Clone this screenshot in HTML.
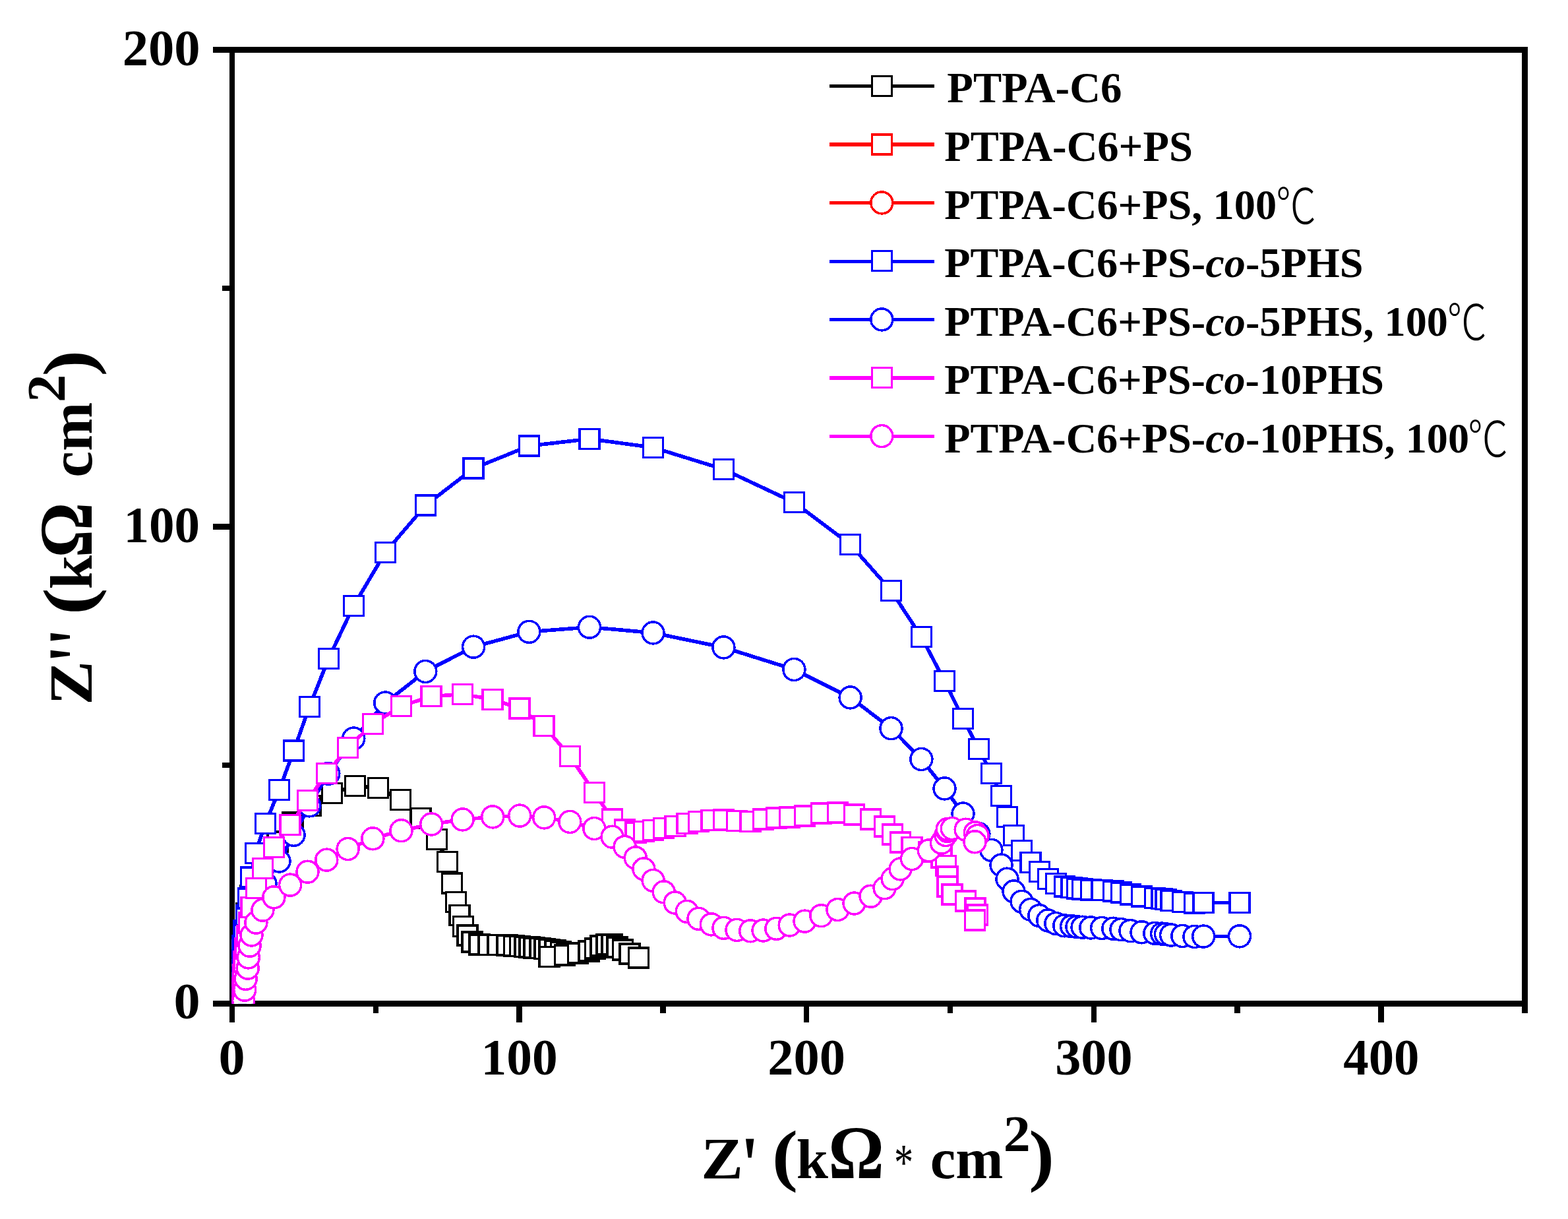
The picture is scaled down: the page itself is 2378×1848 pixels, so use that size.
<!DOCTYPE html>
<html lang="en"><head><meta charset="utf-8"><title>Nyquist plot</title>
<style>html,body{margin:0;padding:0;background:#fff}svg{display:block}text{fill:#000}</style></head><body>
<svg width="2378" height="1848" viewBox="0 0 2378 1848">
<rect width="2378" height="1848" fill="#fff"/>
<defs><clipPath id="plot"><rect x="351.3" y="75.5" width="1961.2" height="1446.2"/></clipPath></defs>
<g fill="#000" shape-rendering="crispEdges">
<rect x="348" y="71" width="1969" height="9"/>
<rect x="348" y="1517" width="1969" height="9"/>
<rect x="348" y="71" width="8" height="1455"/>
<rect x="2308" y="71" width="9" height="1455"/>
<rect x="323" y="71.0" width="26" height="9"/>
<rect x="323" y="794.0" width="26" height="9"/>
<rect x="323" y="1517.0" width="26" height="9"/>
<rect x="337" y="433.0" width="12" height="8"/>
<rect x="337" y="1156.0" width="12" height="8"/>
<rect x="347.75" y="1525" width="8.5" height="25"/>
<rect x="565.55" y="1525" width="8.5" height="11"/>
<rect x="783.35" y="1525" width="8.5" height="25"/>
<rect x="1001.15" y="1525" width="8.5" height="11"/>
<rect x="1218.95" y="1525" width="8.5" height="25"/>
<rect x="1436.75" y="1525" width="8.5" height="11"/>
<rect x="1654.55" y="1525" width="8.5" height="25"/>
<rect x="1872.35" y="1525" width="8.5" height="11"/>
<rect x="2090.15" y="1525" width="8.5" height="25"/>
<rect x="2308" y="1525" width="9" height="11"/>
</g>
<g clip-path="url(#plot)" shape-rendering="crispEdges">
<g stroke="#000" fill="none"><polyline stroke-width="5.6" stroke-linejoin="round" points="357,1508 359,1486 361.5,1462 364.5,1437 368.5,1411 373.5,1385 380,1358 388.5,1331 401,1303 420.8,1275.8 443.8,1246.8 471.2,1221.3 503.6,1202.6 538.5,1191.6 573.4,1194.4 607.5,1212.5 637.8,1240.5 662.4,1272.3 678.6,1306.5 685.7,1339 691.7,1367.7 696.8,1387.6 702.7,1404.6 708.9,1418 716,1427.9 726.9,1432 740.8,1432.3 754.8,1432.6 768.8,1433.1 779.7,1433.8 788.7,1434.6 795.8,1435.4 803.1,1436.2 809.8,1437 818.8,1437.7 825.8,1438.5 833.1,1439.3 842,1440.8 850.7,1443.2 859.3,1445 833.1,1450.6 856.5,1447.8 876.7,1445 893,1441.9 902.7,1438 911,1434.1 920,1432 928.1,1432 935.9,1435.9 944.7,1439.8 954.9,1445.8 968.6,1451.9"/><g fill="#fff" stroke-width="3.5"><rect x="342" y="1493" width="30.0" height="30.0"/><rect x="344" y="1471" width="30.0" height="30.0"/><rect x="346.5" y="1447" width="30.0" height="30.0"/><rect x="349.5" y="1422" width="30.0" height="30.0"/><rect x="353.5" y="1396" width="30.0" height="30.0"/><rect x="358.5" y="1370" width="30.0" height="30.0"/><rect x="365" y="1343" width="30.0" height="30.0"/><rect x="373.5" y="1316" width="30.0" height="30.0"/><rect x="386" y="1288" width="30.0" height="30.0"/><rect x="405.8" y="1260.8" width="30.0" height="30.0"/><rect x="428.8" y="1231.8" width="30.0" height="30.0"/><rect x="456.2" y="1206.3" width="30.0" height="30.0"/><rect x="488.6" y="1187.6" width="30.0" height="30.0"/><rect x="523.5" y="1176.6" width="30.0" height="30.0"/><rect x="558.4" y="1179.4" width="30.0" height="30.0"/><rect x="592.5" y="1197.5" width="30.0" height="30.0"/><rect x="622.8" y="1225.5" width="30.0" height="30.0"/><rect x="647.4" y="1257.3" width="30.0" height="30.0"/><rect x="663.6" y="1291.5" width="30.0" height="30.0"/><rect x="670.7" y="1324" width="30.0" height="30.0"/><rect x="676.7" y="1352.7" width="30.0" height="30.0"/><rect x="681.8" y="1372.6" width="30.0" height="30.0"/><rect x="687.7" y="1389.6" width="30.0" height="30.0"/><rect x="693.9" y="1403" width="30.0" height="30.0"/><rect x="701" y="1412.9" width="30.0" height="30.0"/><rect x="711.9" y="1417" width="30.0" height="30.0"/><rect x="725.8" y="1417.3" width="30.0" height="30.0"/><rect x="739.8" y="1417.6" width="30.0" height="30.0"/><rect x="753.8" y="1418.1" width="30.0" height="30.0"/><rect x="764.7" y="1418.8" width="30.0" height="30.0"/><rect x="773.7" y="1419.6" width="30.0" height="30.0"/><rect x="780.8" y="1420.4" width="30.0" height="30.0"/><rect x="788.1" y="1421.2" width="30.0" height="30.0"/><rect x="794.8" y="1422" width="30.0" height="30.0"/><rect x="803.8" y="1422.7" width="30.0" height="30.0"/><rect x="810.8" y="1423.5" width="30.0" height="30.0"/><rect x="818.1" y="1424.3" width="30.0" height="30.0"/><rect x="827" y="1425.8" width="30.0" height="30.0"/><rect x="835.7" y="1428.2" width="30.0" height="30.0"/><rect x="844.3" y="1430" width="30.0" height="30.0"/><rect x="818.1" y="1435.6" width="30.0" height="30.0"/><rect x="841.5" y="1432.8" width="30.0" height="30.0"/><rect x="861.7" y="1430" width="30.0" height="30.0"/><rect x="878" y="1426.9" width="30.0" height="30.0"/><rect x="887.7" y="1423" width="30.0" height="30.0"/><rect x="896" y="1419.1" width="30.0" height="30.0"/><rect x="905" y="1417" width="30.0" height="30.0"/><rect x="913.1" y="1417" width="30.0" height="30.0"/><rect x="920.9" y="1420.9" width="30.0" height="30.0"/><rect x="929.7" y="1424.8" width="30.0" height="30.0"/><rect x="939.9" y="1430.8" width="30.0" height="30.0"/><rect x="953.6" y="1436.9" width="30.0" height="30.0"/></g></g>
<g stroke="#00f" fill="none"><polyline stroke-width="5.6" stroke-linejoin="round" points="367.2,1512 367.3,1496 367.5,1477 367.6,1456 367.8,1433.8 370.1,1411 373.4,1387.4 376.4,1362.1 380.4,1330.2 387.3,1293.4 402.5,1248.5 423.5,1197.5 445.5,1138 469.3,1071.3 498.3,998.4 536.3,918.5 584.3,837.5 645.3,766.2 718.1,710.2 802.4,676 894,665.4 990.5,678.4 1097.4,711.4 1204.4,761.7 1289.6,825.4 1351.5,895.5 1397.4,965.7 1432.5,1032.3 1460.5,1089.5 1484.4,1135.5 1503.4,1172.4 1518.5,1206.6 1527.5,1238.3 1537.5,1266.4 1549.6,1289.4 1563.2,1307.6 1576.3,1321.5 1589.3,1332.4 1601.4,1339.3 1614.3,1344.2 1625.2,1345.6 1633.5,1346.8 1641.6,1347.8 1654.3,1348.9 1671.2,1349.7 1688.3,1350.8 1700.5,1353 1714.5,1355.9 1731.5,1359.2 1751.4,1361.5 1762.1,1362.6 1768,1363.6 1776.1,1365.5 1793.4,1367.7 1811.5,1369.2 1825.2,1368.6 1880,1368.3"/><g fill="#fff" stroke-width="3.5"><rect x="352.2" y="1497" width="30.0" height="30.0"/><rect x="352.3" y="1481" width="30.0" height="30.0"/><rect x="352.5" y="1462" width="30.0" height="30.0"/><rect x="352.6" y="1441" width="30.0" height="30.0"/><rect x="352.8" y="1418.8" width="30.0" height="30.0"/><rect x="355.1" y="1396" width="30.0" height="30.0"/><rect x="358.4" y="1372.4" width="30.0" height="30.0"/><rect x="361.4" y="1347.1" width="30.0" height="30.0"/><rect x="365.4" y="1315.2" width="30.0" height="30.0"/><rect x="372.3" y="1278.4" width="30.0" height="30.0"/><rect x="387.5" y="1233.5" width="30.0" height="30.0"/><rect x="408.5" y="1182.5" width="30.0" height="30.0"/><rect x="430.5" y="1123" width="30.0" height="30.0"/><rect x="454.3" y="1056.3" width="30.0" height="30.0"/><rect x="483.3" y="983.4" width="30.0" height="30.0"/><rect x="521.3" y="903.5" width="30.0" height="30.0"/><rect x="569.3" y="822.5" width="30.0" height="30.0"/><rect x="630.3" y="751.2" width="30.0" height="30.0"/><rect x="703.1" y="695.2" width="30.0" height="30.0"/><rect x="787.4" y="661" width="30.0" height="30.0"/><rect x="879" y="650.4" width="30.0" height="30.0"/><rect x="975.5" y="663.4" width="30.0" height="30.0"/><rect x="1082.4" y="696.4" width="30.0" height="30.0"/><rect x="1189.4" y="746.7" width="30.0" height="30.0"/><rect x="1274.6" y="810.4" width="30.0" height="30.0"/><rect x="1336.5" y="880.5" width="30.0" height="30.0"/><rect x="1382.4" y="950.7" width="30.0" height="30.0"/><rect x="1417.5" y="1017.3" width="30.0" height="30.0"/><rect x="1445.5" y="1074.5" width="30.0" height="30.0"/><rect x="1469.4" y="1120.5" width="30.0" height="30.0"/><rect x="1488.4" y="1157.4" width="30.0" height="30.0"/><rect x="1503.5" y="1191.6" width="30.0" height="30.0"/><rect x="1512.5" y="1223.3" width="30.0" height="30.0"/><rect x="1522.5" y="1251.4" width="30.0" height="30.0"/><rect x="1534.6" y="1274.4" width="30.0" height="30.0"/><rect x="1548.2" y="1292.6" width="30.0" height="30.0"/><rect x="1561.3" y="1306.5" width="30.0" height="30.0"/><rect x="1574.3" y="1317.4" width="30.0" height="30.0"/><rect x="1586.4" y="1324.3" width="30.0" height="30.0"/><rect x="1599.3" y="1329.2" width="30.0" height="30.0"/><rect x="1610.2" y="1330.6" width="30.0" height="30.0"/><rect x="1618.5" y="1331.8" width="30.0" height="30.0"/><rect x="1626.6" y="1332.8" width="30.0" height="30.0"/><rect x="1639.3" y="1333.9" width="30.0" height="30.0"/><rect x="1656.2" y="1334.7" width="30.0" height="30.0"/><rect x="1673.3" y="1335.8" width="30.0" height="30.0"/><rect x="1685.5" y="1338" width="30.0" height="30.0"/><rect x="1699.5" y="1340.9" width="30.0" height="30.0"/><rect x="1716.5" y="1344.2" width="30.0" height="30.0"/><rect x="1736.4" y="1346.5" width="30.0" height="30.0"/><rect x="1747.1" y="1347.6" width="30.0" height="30.0"/><rect x="1753" y="1348.6" width="30.0" height="30.0"/><rect x="1761.1" y="1350.5" width="30.0" height="30.0"/><rect x="1778.4" y="1352.7" width="30.0" height="30.0"/><rect x="1796.5" y="1354.2" width="30.0" height="30.0"/><rect x="1810.2" y="1353.6" width="30.0" height="30.0"/><rect x="1865" y="1353.3" width="30.0" height="30.0"/></g></g>
<g stroke="#00f" fill="none"><polyline stroke-width="5.6" stroke-linejoin="round" points="367.2,1515.17 367.3,1504.5 367.5,1491.83 367.6,1477.83 367.8,1463.03 370.1,1447.83 373.4,1432.1 376.4,1415.23 380.4,1393.97 387.3,1369.43 402.5,1339.5 423.5,1305.5 445.5,1265.83 469.3,1221.37 498.3,1172.77 536.3,1119.5 584.3,1065.5 645.3,1017.97 718.1,980.63 802.4,957.83 894,950.77 990.5,959.43 1097.4,981.43 1204.4,1014.97 1289.6,1057.43 1351.5,1104.17 1397.4,1150.97 1432.5,1195.37 1460.5,1233.5 1484.4,1264.17 1503.4,1288.77 1518.5,1311.57 1527.5,1332.7 1537.5,1351.43 1549.6,1366.77 1563.2,1378.9 1576.3,1388.17 1589.3,1395.43 1601.4,1400.03 1614.3,1403.3 1625.2,1404.23 1633.5,1405.03 1641.6,1405.7 1654.3,1406.43 1671.2,1406.97 1688.3,1407.7 1700.5,1409.17 1714.5,1411.1 1731.5,1413.3 1751.4,1414.83 1762.1,1415.57 1768,1416.23 1776.1,1417.5 1793.4,1418.97 1811.5,1419.97 1825.2,1419.57 1880,1419.37"/><g fill="#fff" stroke-width="3.5"><circle cx="367.2" cy="1515.17" r="16.5"/><circle cx="367.3" cy="1504.5" r="16.5"/><circle cx="367.5" cy="1491.83" r="16.5"/><circle cx="367.6" cy="1477.83" r="16.5"/><circle cx="367.8" cy="1463.03" r="16.5"/><circle cx="370.1" cy="1447.83" r="16.5"/><circle cx="373.4" cy="1432.1" r="16.5"/><circle cx="376.4" cy="1415.23" r="16.5"/><circle cx="380.4" cy="1393.97" r="16.5"/><circle cx="387.3" cy="1369.43" r="16.5"/><circle cx="402.5" cy="1339.5" r="16.5"/><circle cx="423.5" cy="1305.5" r="16.5"/><circle cx="445.5" cy="1265.83" r="16.5"/><circle cx="469.3" cy="1221.37" r="16.5"/><circle cx="498.3" cy="1172.77" r="16.5"/><circle cx="536.3" cy="1119.5" r="16.5"/><circle cx="584.3" cy="1065.5" r="16.5"/><circle cx="645.3" cy="1017.97" r="16.5"/><circle cx="718.1" cy="980.63" r="16.5"/><circle cx="802.4" cy="957.83" r="16.5"/><circle cx="894" cy="950.77" r="16.5"/><circle cx="990.5" cy="959.43" r="16.5"/><circle cx="1097.4" cy="981.43" r="16.5"/><circle cx="1204.4" cy="1014.97" r="16.5"/><circle cx="1289.6" cy="1057.43" r="16.5"/><circle cx="1351.5" cy="1104.17" r="16.5"/><circle cx="1397.4" cy="1150.97" r="16.5"/><circle cx="1432.5" cy="1195.37" r="16.5"/><circle cx="1460.5" cy="1233.5" r="16.5"/><circle cx="1484.4" cy="1264.17" r="16.5"/><circle cx="1503.4" cy="1288.77" r="16.5"/><circle cx="1518.5" cy="1311.57" r="16.5"/><circle cx="1527.5" cy="1332.7" r="16.5"/><circle cx="1537.5" cy="1351.43" r="16.5"/><circle cx="1549.6" cy="1366.77" r="16.5"/><circle cx="1563.2" cy="1378.9" r="16.5"/><circle cx="1576.3" cy="1388.17" r="16.5"/><circle cx="1589.3" cy="1395.43" r="16.5"/><circle cx="1601.4" cy="1400.03" r="16.5"/><circle cx="1614.3" cy="1403.3" r="16.5"/><circle cx="1625.2" cy="1404.23" r="16.5"/><circle cx="1633.5" cy="1405.03" r="16.5"/><circle cx="1641.6" cy="1405.7" r="16.5"/><circle cx="1654.3" cy="1406.43" r="16.5"/><circle cx="1671.2" cy="1406.97" r="16.5"/><circle cx="1688.3" cy="1407.7" r="16.5"/><circle cx="1700.5" cy="1409.17" r="16.5"/><circle cx="1714.5" cy="1411.1" r="16.5"/><circle cx="1731.5" cy="1413.3" r="16.5"/><circle cx="1751.4" cy="1414.83" r="16.5"/><circle cx="1762.1" cy="1415.57" r="16.5"/><circle cx="1768" cy="1416.23" r="16.5"/><circle cx="1776.1" cy="1417.5" r="16.5"/><circle cx="1793.4" cy="1418.97" r="16.5"/><circle cx="1811.5" cy="1419.97" r="16.5"/><circle cx="1825.2" cy="1419.57" r="16.5"/><circle cx="1880" cy="1419.37" r="16.5"/></g></g>
<g stroke="#f0f" fill="none"><polyline stroke-width="5.6" stroke-linejoin="round" points="367.9,1498 368.6,1478 370,1458 372,1438 374.3,1419.1 377.6,1399.2 381.2,1375.6 388.4,1346.6 398.4,1316.6 415.4,1284.4 440.1,1250.5 466.5,1213.5 495.3,1172.4 527.6,1133.5 565.4,1097.4 608.5,1070.3 654.2,1055.6 701.6,1052.6 747.2,1060.3 788.2,1073.8 825.2,1100.7 864.3,1146.5 901.4,1201.4 928.6,1242 947.6,1258.2 963.8,1262 976.4,1260.4 990.6,1258.3 1006.7,1255.7 1023.8,1252.3 1041.8,1248.6 1059.5,1245.7 1078.9,1243.3 1097.5,1243.2 1117.5,1244.7 1138.2,1245.3 1157.5,1242 1177.4,1240.2 1197.7,1239.1 1220.5,1237.1 1245.4,1233.2 1270.5,1232 1295.5,1234.9 1320.6,1242 1341.6,1253.1 1353.6,1265.1 1365.6,1277.1 1383,1284.7 1408.8,1291.4 1427.9,1300 1434.4,1312.3 1437,1328.8 1436.8,1344.2 1443.8,1355.9 1464.7,1365.9 1478.8,1376.9 1482.5,1386.8 1478.5,1394.8"/><g fill="#fff" stroke-width="3.5"><rect x="352.9" y="1483" width="30.0" height="30.0"/><rect x="353.6" y="1463" width="30.0" height="30.0"/><rect x="355" y="1443" width="30.0" height="30.0"/><rect x="357" y="1423" width="30.0" height="30.0"/><rect x="359.3" y="1404.1" width="30.0" height="30.0"/><rect x="362.6" y="1384.2" width="30.0" height="30.0"/><rect x="366.2" y="1360.6" width="30.0" height="30.0"/><rect x="373.4" y="1331.6" width="30.0" height="30.0"/><rect x="383.4" y="1301.6" width="30.0" height="30.0"/><rect x="400.4" y="1269.4" width="30.0" height="30.0"/><rect x="425.1" y="1235.5" width="30.0" height="30.0"/><rect x="451.5" y="1198.5" width="30.0" height="30.0"/><rect x="480.3" y="1157.4" width="30.0" height="30.0"/><rect x="512.6" y="1118.5" width="30.0" height="30.0"/><rect x="550.4" y="1082.4" width="30.0" height="30.0"/><rect x="593.5" y="1055.3" width="30.0" height="30.0"/><rect x="639.2" y="1040.6" width="30.0" height="30.0"/><rect x="686.6" y="1037.6" width="30.0" height="30.0"/><rect x="732.2" y="1045.3" width="30.0" height="30.0"/><rect x="773.2" y="1058.8" width="30.0" height="30.0"/><rect x="810.2" y="1085.7" width="30.0" height="30.0"/><rect x="849.3" y="1131.5" width="30.0" height="30.0"/><rect x="886.4" y="1186.4" width="30.0" height="30.0"/><rect x="913.6" y="1227" width="30.0" height="30.0"/><rect x="932.6" y="1243.2" width="30.0" height="30.0"/><rect x="948.8" y="1247" width="30.0" height="30.0"/><rect x="961.4" y="1245.4" width="30.0" height="30.0"/><rect x="975.6" y="1243.3" width="30.0" height="30.0"/><rect x="991.7" y="1240.7" width="30.0" height="30.0"/><rect x="1008.8" y="1237.3" width="30.0" height="30.0"/><rect x="1026.8" y="1233.6" width="30.0" height="30.0"/><rect x="1044.5" y="1230.7" width="30.0" height="30.0"/><rect x="1063.9" y="1228.3" width="30.0" height="30.0"/><rect x="1082.5" y="1228.2" width="30.0" height="30.0"/><rect x="1102.5" y="1229.7" width="30.0" height="30.0"/><rect x="1123.2" y="1230.3" width="30.0" height="30.0"/><rect x="1142.5" y="1227" width="30.0" height="30.0"/><rect x="1162.4" y="1225.2" width="30.0" height="30.0"/><rect x="1182.7" y="1224.1" width="30.0" height="30.0"/><rect x="1205.5" y="1222.1" width="30.0" height="30.0"/><rect x="1230.4" y="1218.2" width="30.0" height="30.0"/><rect x="1255.5" y="1217" width="30.0" height="30.0"/><rect x="1280.5" y="1219.9" width="30.0" height="30.0"/><rect x="1305.6" y="1227" width="30.0" height="30.0"/><rect x="1326.6" y="1238.1" width="30.0" height="30.0"/><rect x="1338.6" y="1250.1" width="30.0" height="30.0"/><rect x="1350.6" y="1262.1" width="30.0" height="30.0"/><rect x="1368" y="1269.7" width="30.0" height="30.0"/><rect x="1393.8" y="1276.4" width="30.0" height="30.0"/><rect x="1412.9" y="1285" width="30.0" height="30.0"/><rect x="1419.4" y="1297.3" width="30.0" height="30.0"/><rect x="1422" y="1313.8" width="30.0" height="30.0"/><rect x="1421.8" y="1329.2" width="30.0" height="30.0"/><rect x="1428.8" y="1340.9" width="30.0" height="30.0"/><rect x="1449.7" y="1350.9" width="30.0" height="30.0"/><rect x="1463.8" y="1361.9" width="30.0" height="30.0"/><rect x="1467.5" y="1371.8" width="30.0" height="30.0"/><rect x="1463.5" y="1379.8" width="30.0" height="30.0"/></g></g>
<g stroke="#f0f" fill="none"><polyline stroke-width="5.6" stroke-linejoin="round" points="369.2,1517.2 371.2,1500.7 372.7,1483.8 375.7,1467.6 376.8,1451.4 378.6,1433.7 381.5,1417.5 388.4,1398.6 398.4,1379.7 415.4,1360.3 440.1,1341.6 466.5,1321.7 495.3,1303.6 527.6,1287 565.4,1271.3 608.5,1259.2 654.2,1249.5 701.6,1242.4 747.2,1238.4 788.2,1236.6 825.2,1239.4 864.3,1245.9 901.4,1256 928.6,1268.7 947.6,1283.9 963.8,1300.4 976.4,1317.4 990.6,1334.9 1006.7,1352.3 1023.8,1368.5 1041.8,1381.8 1059.5,1392.8 1078.9,1401.4 1097.5,1406.8 1117.5,1409.9 1138.2,1411.3 1157.5,1410.5 1177.4,1407.8 1197.7,1402.5 1220.5,1396.6 1245.4,1388.2 1270.5,1379 1295.5,1369.5 1320.6,1358.7 1341.6,1346.2 1353.6,1332.2 1365.6,1317.4 1383,1302 1408.8,1289.3 1427.9,1277.7 1434.4,1266 1437,1260 1436.8,1257 1443.8,1256 1464.7,1257.7 1478.8,1262.4 1482.5,1267 1478.5,1276.3"/><g fill="#fff" stroke-width="3.5"><circle cx="369.2" cy="1517.2" r="16.5"/><circle cx="371.2" cy="1500.7" r="16.5"/><circle cx="372.7" cy="1483.8" r="16.5"/><circle cx="375.7" cy="1467.6" r="16.5"/><circle cx="376.8" cy="1451.4" r="16.5"/><circle cx="378.6" cy="1433.7" r="16.5"/><circle cx="381.5" cy="1417.5" r="16.5"/><circle cx="388.4" cy="1398.6" r="16.5"/><circle cx="398.4" cy="1379.7" r="16.5"/><circle cx="415.4" cy="1360.3" r="16.5"/><circle cx="440.1" cy="1341.6" r="16.5"/><circle cx="466.5" cy="1321.7" r="16.5"/><circle cx="495.3" cy="1303.6" r="16.5"/><circle cx="527.6" cy="1287" r="16.5"/><circle cx="565.4" cy="1271.3" r="16.5"/><circle cx="608.5" cy="1259.2" r="16.5"/><circle cx="654.2" cy="1249.5" r="16.5"/><circle cx="701.6" cy="1242.4" r="16.5"/><circle cx="747.2" cy="1238.4" r="16.5"/><circle cx="788.2" cy="1236.6" r="16.5"/><circle cx="825.2" cy="1239.4" r="16.5"/><circle cx="864.3" cy="1245.9" r="16.5"/><circle cx="901.4" cy="1256" r="16.5"/><circle cx="928.6" cy="1268.7" r="16.5"/><circle cx="947.6" cy="1283.9" r="16.5"/><circle cx="963.8" cy="1300.4" r="16.5"/><circle cx="976.4" cy="1317.4" r="16.5"/><circle cx="990.6" cy="1334.9" r="16.5"/><circle cx="1006.7" cy="1352.3" r="16.5"/><circle cx="1023.8" cy="1368.5" r="16.5"/><circle cx="1041.8" cy="1381.8" r="16.5"/><circle cx="1059.5" cy="1392.8" r="16.5"/><circle cx="1078.9" cy="1401.4" r="16.5"/><circle cx="1097.5" cy="1406.8" r="16.5"/><circle cx="1117.5" cy="1409.9" r="16.5"/><circle cx="1138.2" cy="1411.3" r="16.5"/><circle cx="1157.5" cy="1410.5" r="16.5"/><circle cx="1177.4" cy="1407.8" r="16.5"/><circle cx="1197.7" cy="1402.5" r="16.5"/><circle cx="1220.5" cy="1396.6" r="16.5"/><circle cx="1245.4" cy="1388.2" r="16.5"/><circle cx="1270.5" cy="1379" r="16.5"/><circle cx="1295.5" cy="1369.5" r="16.5"/><circle cx="1320.6" cy="1358.7" r="16.5"/><circle cx="1341.6" cy="1346.2" r="16.5"/><circle cx="1353.6" cy="1332.2" r="16.5"/><circle cx="1365.6" cy="1317.4" r="16.5"/><circle cx="1383" cy="1302" r="16.5"/><circle cx="1408.8" cy="1289.3" r="16.5"/><circle cx="1427.9" cy="1277.7" r="16.5"/><circle cx="1434.4" cy="1266" r="16.5"/><circle cx="1437" cy="1260" r="16.5"/><circle cx="1436.8" cy="1257" r="16.5"/><circle cx="1443.8" cy="1256" r="16.5"/><circle cx="1464.7" cy="1257.7" r="16.5"/><circle cx="1478.8" cy="1262.4" r="16.5"/><circle cx="1482.5" cy="1267" r="16.5"/><circle cx="1478.5" cy="1276.3" r="16.5"/></g></g>
</g>
<g stroke="#000" fill="none" shape-rendering="crispEdges"><line x1="1258" y1="130.6" x2="1416.6" y2="130.6" stroke-width="5.5"/>
<rect x="1322.60" y="115.30" width="30.0" height="30.0" fill="#fff" stroke-width="3.5"/></g>
<g stroke="#f00" fill="none" shape-rendering="crispEdges"><line x1="1258" y1="219.1" x2="1416.6" y2="219.1" stroke-width="5.5"/>
<rect x="1322.60" y="203.80" width="30.0" height="30.0" fill="#fff" stroke-width="3.5"/></g>
<g stroke="#f00" fill="none" shape-rendering="crispEdges"><line x1="1258" y1="307.6" x2="1416.6" y2="307.6" stroke-width="5.5"/>
<circle cx="1337.3" cy="307.40000000000003" r="16.5" fill="#fff" stroke-width="3.5"/></g>
<g stroke="#00f" fill="none" shape-rendering="crispEdges"><line x1="1258" y1="396.7" x2="1416.6" y2="396.7" stroke-width="5.5"/>
<rect x="1322.60" y="380.40" width="30.0" height="30.0" fill="#fff" stroke-width="3.5"/></g>
<g stroke="#00f" fill="none" shape-rendering="crispEdges"><line x1="1258" y1="484.6" x2="1416.6" y2="484.6" stroke-width="5.5"/>
<circle cx="1337.3" cy="484.40000000000003" r="16.5" fill="#fff" stroke-width="3.5"/></g>
<g stroke="#f0f" fill="none" shape-rendering="crispEdges"><line x1="1258" y1="572.8" x2="1416.6" y2="572.8" stroke-width="5.5"/>
<rect x="1322.60" y="557.50" width="30.0" height="30.0" fill="#fff" stroke-width="3.5"/></g>
<g stroke="#f0f" fill="none" shape-rendering="crispEdges"><line x1="1258" y1="661.3" x2="1416.6" y2="661.3" stroke-width="5.5"/>
<circle cx="1337.3" cy="661.0999999999999" r="16.5" fill="#fff" stroke-width="3.5"/></g>
<text transform="matrix(0.6477 0 0 0.6477 1436.33 155.10)" font-size="100" font-family="'Liberation Serif',serif" font-weight="bold">PTPA-C6</text>
<text transform="matrix(0.6461 0 0 0.6461 1432.23 243.80)" font-size="100" font-family="'Liberation Serif',serif" font-weight="bold">PTPA-C6+PS</text>
<text transform="matrix(0.6437 0 0 0.6437 1432.23 332.00)" font-size="100" font-family="'Liberation Serif',serif" font-weight="bold">PTPA-C6+PS, 100</text>
<text transform="matrix(0.6428 0 0 0.6428 1432.24 420.10)" font-size="100" font-family="'Liberation Serif',serif" font-weight="bold">PTPA-C6+PS-<tspan font-style="italic">co</tspan>-5PHS</text>
<text transform="matrix(0.6427 0 0 0.6427 1432.24 508.80)" font-size="100" font-family="'Liberation Serif',serif" font-weight="bold">PTPA-C6+PS-<tspan font-style="italic">co</tspan>-5PHS, 100</text>
<text transform="matrix(0.6422 0 0 0.6422 1432.24 597.30)" font-size="100" font-family="'Liberation Serif',serif" font-weight="bold">PTPA-C6+PS-<tspan font-style="italic">co</tspan>-10PHS</text>
<text transform="matrix(0.6426 0 0 0.6426 1432.24 685.70)" font-size="100" font-family="'Liberation Serif',serif" font-weight="bold">PTPA-C6+PS-<tspan font-style="italic">co</tspan>-10PHS, 100</text>
<text transform="matrix(0.6113 0 0 0.7429 1935.03 338.59)" font-size="100" font-family="'Liberation Serif','Noto Sans CJK SC',sans-serif" font-weight="300">℃</text>
<text transform="matrix(0.6011 0 0 0.7429 2194.79 515.39)" font-size="100" font-family="'Liberation Serif','Noto Sans CJK SC',sans-serif" font-weight="300">℃</text>
<text transform="matrix(0.6113 0 0 0.7429 2225.93 692.29)" font-size="100" font-family="'Liberation Serif','Noto Sans CJK SC',sans-serif" font-weight="300">℃</text>
<text transform="matrix(0.7866 0 0 0.7911 185.65 99.21)" font-size="100" font-family="'Liberation Serif',serif" font-weight="bold">200</text>
<text transform="matrix(0.7710 0 0 0.7867 187.53 822.21)" font-size="100" font-family="'Liberation Serif',serif" font-weight="bold">100</text>
<text transform="matrix(0.8024 0 0 0.7852 263.59 1544.21)" font-size="100" font-family="'Liberation Serif',serif" font-weight="bold">0</text>
<text transform="matrix(0.8024 0 0 0.7852 331.39 1629.21)" font-size="100" font-family="'Liberation Serif',serif" font-weight="bold">0</text>
<text transform="matrix(0.7746 0 0 0.7852 729.50 1629.21)" font-size="100" font-family="'Liberation Serif',serif" font-weight="bold">100</text>
<text transform="matrix(0.7852 0 0 0.7852 1164.16 1629.21)" font-size="100" font-family="'Liberation Serif',serif" font-weight="bold">200</text>
<text transform="matrix(0.7824 0 0 0.7852 1600.17 1629.21)" font-size="100" font-family="'Liberation Serif',serif" font-weight="bold">300</text>
<text transform="matrix(0.7682 0 0 0.7852 2037.25 1629.21)" font-size="100" font-family="'Liberation Serif',serif" font-weight="bold">400</text>
<text transform="matrix(0.9558 0 0 0.8938 1063.32 1786.10)" font-size="100" font-family="'Liberation Serif',serif" font-weight="bold">Z</text>
<text transform="matrix(0.9840 0 0 1.2128 1123.42 1806.14)" font-size="100" font-family="'Liberation Serif',serif" font-weight="bold">'</text>
<text transform="matrix(1.1804 0 0 1.0311 1170.79 1786.15)" font-size="100" font-family="'Liberation Serif',serif" font-weight="bold">(</text>
<text transform="matrix(0.8679 0 0 0.8420 1207.83 1786.10)" font-size="100" font-family="'Liberation Serif',serif" font-weight="bold">k</text>
<text transform="matrix(1.0563 0 0 1.1409 1256.35 1786.10)" font-size="100" font-family="'Liberation Serif',serif" font-weight="bold">Ω</text>
<text transform="matrix(0.5825 0 0 0.7726 1355.99 1788.22)" font-size="100" font-family="'Liberation Serif',serif" font-weight="normal">*</text>
<text transform="matrix(0.8661 0 0 0.8771 1410.77 1786.12)" font-size="100" font-family="'Liberation Serif',serif" font-weight="bold">cm</text>
<text transform="matrix(0.8193 0 0 0.7879 1521.72 1744.90)" font-size="100" font-family="'Liberation Serif',serif" font-weight="bold">2</text>
<text transform="matrix(1.1615 0 0 1.0311 1560.32 1786.15)" font-size="100" font-family="'Liberation Serif',serif" font-weight="bold">)</text>
<text transform="translate(139.20 1068.81) rotate(-90) scale(1.0018 0.9262)" font-size="100" font-family="'Liberation Serif',serif" font-weight="bold">Z</text>
<text transform="translate(159.29 1004.86) rotate(-90) scale(0.9407 1.2426)" font-size="100" font-family="'Liberation Serif',serif" font-weight="bold">''</text>
<text transform="translate(138.88 932.22) rotate(-90) scale(1.2275 1.0533)" font-size="100" font-family="'Liberation Serif',serif" font-weight="bold">(</text>
<text transform="translate(139.20 893.21) rotate(-90) scale(0.9245 0.9014)" font-size="100" font-family="'Liberation Serif',serif" font-weight="bold">k</text>
<text transform="translate(139.20 845.42) rotate(-90) scale(1.0479 1.1439)" font-size="100" font-family="'Liberation Serif',serif" font-weight="bold">Ω</text>
<text transform="translate(139.20 723.72) rotate(-90) scale(0.8922 0.9000)" font-size="100" font-family="'Liberation Serif',serif" font-weight="bold">cm</text>
<text transform="translate(97.90 609.89) rotate(-90) scale(0.8482 0.8182)" font-size="100" font-family="'Liberation Serif',serif" font-weight="bold">2</text>
<text transform="translate(138.88 570.49) rotate(-90) scale(1.1962 1.0533)" font-size="100" font-family="'Liberation Serif',serif" font-weight="bold">)</text>
</svg></body></html>
